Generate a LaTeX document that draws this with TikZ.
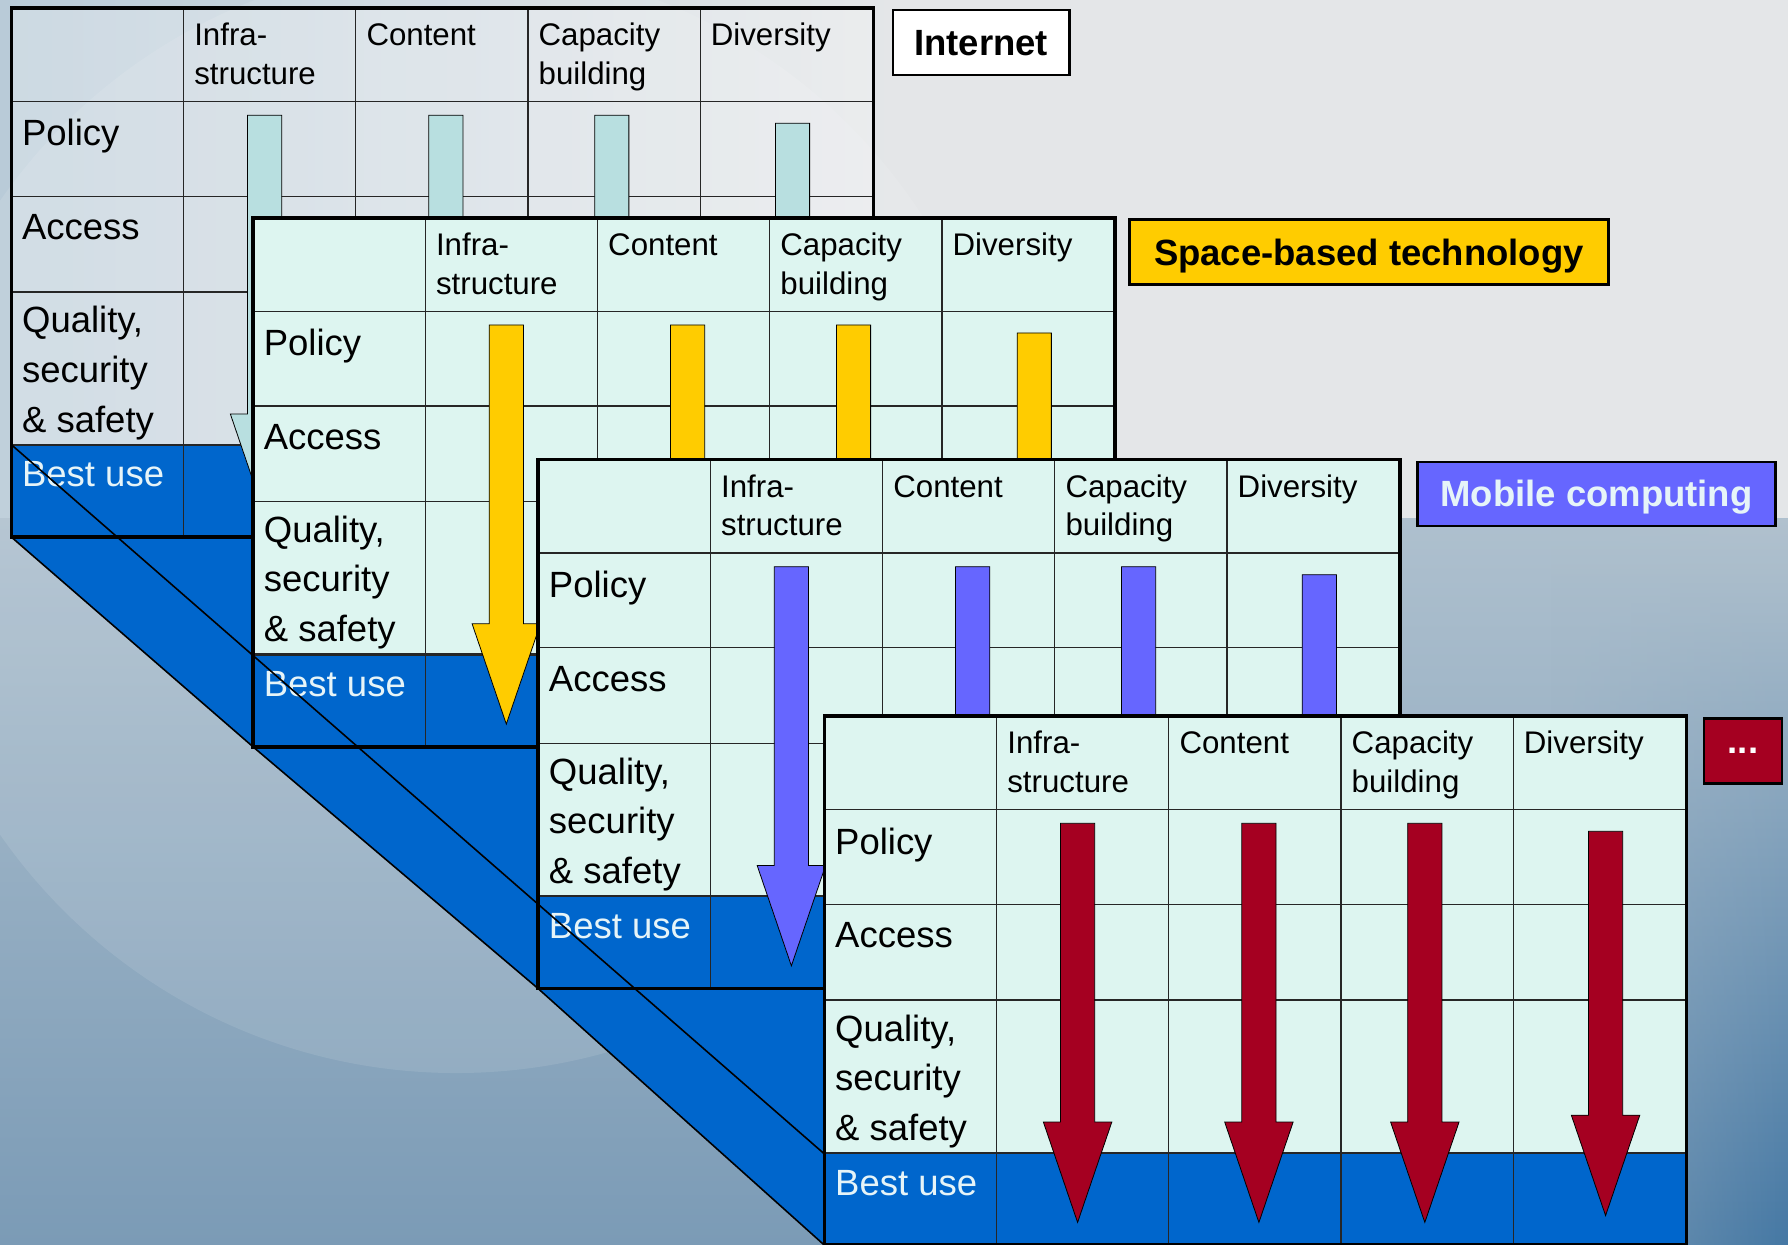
\documentclass[tikz,border=0pt]{standalone}
\usepackage{fontspec}
\setmainfont{Liberation Sans}
\usetikzlibrary{fadings}
\definecolor{mint}{HTML}{DDF5F0}
\definecolor{bestblue}{HTML}{0066CC}
\definecolor{gold}{HTML}{FFCC00}
\definecolor{violet}{HTML}{6666FF}
\definecolor{darkred}{HTML}{A50021}
\definecolor{lcyan}{HTML}{B8DFE0}
\definecolor{bgtopL}{HTML}{B9CBD8}
\definecolor{bgtopR}{HTML}{E4E6E8}
\definecolor{bglowT}{HTML}{AEC0CE}
\definecolor{bglowB}{HTML}{7B9BB6}
\definecolor{bgedgeT}{HTML}{B2C2CE}
\definecolor{bgedgeB}{HTML}{4578A4}
\definecolor{paletext}{HTML}{E6F4F8}

\newcommand\cellarrow[4]{% color, center x, top y, tip y
  \draw[arrowshape, fill=#1] ({#2-15},#3) -- ({#2+15},#3) -- ({#2+15},{#4-88})
    -- ({#2+30},{#4-88}) -- (#2,#4) -- ({#2-30},{#4-88}) -- ({#2-15},{#4-88}) -- cycle;}

\newcommand\ictable[5]{% name, X, Y, cell fill options, arrow colour
  \begin{scope}[shift={(#2,#3)}]
    \fill[#4] (0,0) rectangle (756,383);
    \fill[bestblue] (0,383) rectangle (756,464);
    \foreach \xx in {151,302,453,604} \draw[gridline] (\xx,0) -- (\xx,464);
    \foreach \yy in {82,165,249} \draw[gridline] (0,\yy) -- (756,\yy);
    \draw[gridline, line width=1pt] (0,383) -- (756,383);
    \node[hdr] (#1-infra1) at (160,33) {Infra-};
    \node[hdr] (#1-infra2) at (160,67) {structure};
    \node[hdr] (#1-content) at (311,33) {Content};
    \node[hdr] (#1-cap1) at (462,33) {Capacity};
    \node[hdr] (#1-cap2) at (462,67) {building};
    \node[hdr] (#1-div) at (613,33) {Diversity};
    \node[rowlbl] (#1-policy) at (9,121) {Policy};
    \node[rowlbl] (#1-access) at (9,203) {Access};
    \node[rowlbl] (#1-qual1) at (9,285) {Quality,};
    \node[rowlbl] (#1-qual2) at (9,328) {security};
    \node[rowlbl] (#1-qual3) at (9,372) {\& safety};
    \node[rowlbl, text=paletext] (#1-best) at (9,420) {Best use};
    \cellarrow{#5}{222}{94}{444}
    \cellarrow{#5}{381}{94}{444}
    \cellarrow{#5}{526.5}{94}{444}
    \cellarrow{#5}{685}{101}{438}
    \draw[frameline] (0,0) rectangle (756,464);
  \end{scope}}

\begin{document}
\begin{tikzpicture}[x=0.5pt,y=-0.5pt,
  gridline/.style={draw=black!85, line width=0.55pt},
  frameline/.style={draw=black, line width=1.6pt},
  arrowshape/.style={draw=black, line width=0.35pt},
  hdr/.style={anchor=base west, inner sep=0pt, font=\fontsize{13.7}{16}\selectfont},
  rowlbl/.style={anchor=base west, inner sep=0pt, font=\fontsize{16}{19}\selectfont},
  tagbox/.style={draw=black, line width=1pt, inner sep=0pt, text depth=0pt, font=\bfseries\fontsize{16}{19}\selectfont},
  diag/.style={draw=black, line width=0.7pt}]
  \clip (0,0) rectangle (1568,1091);
  % background
  \shade[left color=bgtopL, right color=bgtopR, middle color=bgtopR] (0,0) rectangle (1568,456);
  \shade[top color=bglowT, bottom color=bglowB] (0,455) rectangle (1568,1091);
  \shade[top color=bgedgeT, bottom color=bgedgeB, path fading=west] (1360,455) rectangle (1568,1091);
  \fill[white, opacity=0.1] (400,454) circle (487);
  % table corners
  \coordinate (t1-bl) at (10,471);
  \coordinate (t2-bl) at (222,655);
  \coordinate (t3-bl) at (472,867);
  \coordinate (t4-bl) at (723,1092);
  \coordinate (t1-bu) at (10,390);
  \coordinate (t4-bu) at (723,1012);
  % blue shadow
  \fill[bestblue] (t1-bl) -- (t2-bl) -- (t3-bl) -- (t4-bl) -- (723,867) -- (t3-bl)
     -- (472,655) -- (t2-bl) -- (222,471) -- cycle;
  % tables
  \ictable{t1}{10}{7}{white, fill opacity=0.28}{lcyan}
  \ictable{t2}{222}{191}{mint}{gold}
  \ictable{t3}{472}{403}{mint}{violet}
  \ictable{t4}{723}{628}{mint}{darkred}
  % diagonals
  \draw[diag] (t1-bl) -- (t2-bl) -- (t3-bl) -- (t4-bl);
  \draw[diag] (t1-bu) -- (t4-bu);
  % tags
  \node[tagbox, fill=white, minimum width=77.5pt, minimum height=28.5pt] (internet) at (860.5,37.5) {Internet};
  \node[tagbox, fill=gold, minimum width=210pt, minimum height=28.5pt] (space) at (1200.5,221) {Space-based technology};
  \node[tagbox, fill=violet, text=paletext, minimum width=157pt, minimum height=28pt] (mobile) at (1400,433) {Mobile computing};
  \node[tagbox, fill=darkred, text=white, minimum width=34.5pt, minimum height=28.5pt] (more) at (1528.5,658.5) {...};
\end{tikzpicture}
\end{document}
